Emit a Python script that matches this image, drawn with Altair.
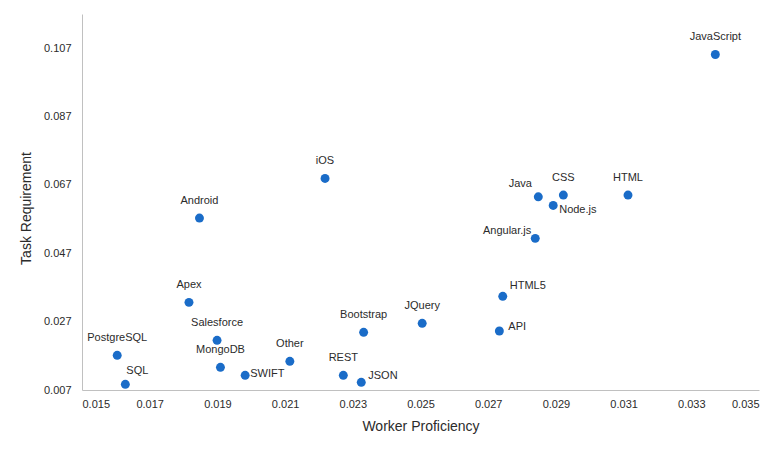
import altair as alt
import pandas as pd

labels = ["JavaScript", "Java", "CSS", "Node.js", "HTML", "iOS", "Android", "Angular.js",
          "HTML5", "API", "JQuery", "Bootstrap", "Apex", "Salesforce", "PostgreSQL", "SQL",
          "MongoDB", "SWIFT", "Other", "REST", "JSON"]
proficiency = [0.03371, 0.02848, 0.02922, 0.02892, 0.03113, 0.02218, 0.01847, 0.02839,
               0.02743, 0.02733, 0.02505, 0.02332, 0.01816, 0.01899, 0.01604, 0.01628,
               0.01909, 0.01982, 0.02114, 0.02272, 0.02325]
requirement = [0.10516, 0.06352, 0.06402, 0.06100, 0.06402, 0.06890, 0.05730, 0.05136,
               0.03440, 0.02425, 0.02650, 0.02387, 0.03264, 0.02153, 0.01714, 0.00867,
               0.01364, 0.01130, 0.01539, 0.01130, 0.00925]

x_ticks = [0.015, 0.017, 0.019, 0.021, 0.023, 0.025, 0.027, 0.029, 0.031, 0.033, 0.035]
y_ticks = [0.007, 0.027, 0.047, 0.067, 0.087, 0.107]

df = pd.DataFrame({"label": labels, "x": proficiency, "y": requirement})

# label placement (layout, not data): name -> (align, dx, dy)
default_place = ("center", 0, -17)
placements = {
    "Java": ("center", -18, -13),
    "SQL": ("center", 12, -13),
    "Node.js": ("left", 6, 5),
    "SWIFT": ("left", 5, -1),
    "JSON": ("left", 7, -6),
    "HTML5": ("left", 7, -10),
    "API": ("left", 9, -4),
    "Angular.js": ("right", -4, -7),
}

TEXT = "#2b2b2b"
FONT = "Liberation Sans"

x_enc = alt.X("x:Q", scale=alt.Scale(domain=[0.015, 0.035], nice=False, zero=False),
              axis=alt.Axis(title="Worker Proficiency", values=x_ticks, format=".3f",
                            grid=False, ticks=False, tickSize=0, labelPadding=8,
                            domainColor="#c0c0c0", labelColor=TEXT, titleColor=TEXT,
                            labelFont=FONT, titleFont=FONT, labelFontSize=11,
                            titleFontSize=14, titleFontWeight="normal", titlePadding=10))
y_enc = alt.Y("y:Q", scale=alt.Scale(domain=[0.007, 0.117], nice=False, zero=False),
              axis=alt.Axis(title="Task Requirement", values=y_ticks, format=".3f",
                            grid=False, ticks=False, tickSize=0, labelPadding=11,
                            domainColor="#c0c0c0", labelColor=TEXT, titleColor=TEXT,
                            labelFont=FONT, titleFont=FONT, labelFontSize=11,
                            titleFontSize=14, titleFontWeight="normal", titlePadding=10,
                            titleY=194))

base = alt.Chart(df)
points = base.mark_circle(size=80, color="#1a6cc8", opacity=1).encode(x=x_enc, y=y_enc)

groups = {}
for name in labels:
    groups.setdefault(placements.get(name, default_place), []).append(name)

layers = [points]
for (align, dx, dy), names in groups.items():
    layers.append(
        base.transform_filter(alt.FieldOneOfPredicate(field="label", oneOf=names))
        .mark_text(align=align, baseline="middle", dx=dx, dy=dy, font=FONT,
                   fontSize=11, color=TEXT)
        .encode(x="x:Q", y="y:Q", text="label:N")
    )

chart = alt.layer(*layers).properties(
    width=677, height=376,
    background="white",
    autosize=alt.AutoSizeParams(type="none"),
    padding={"left": 74, "top": 6, "right": 14, "bottom": 52},
).configure_view(strokeWidth=0, stroke="transparent")

chart.save("out.html", embed_options={"renderer": "svg", "actions": False})
